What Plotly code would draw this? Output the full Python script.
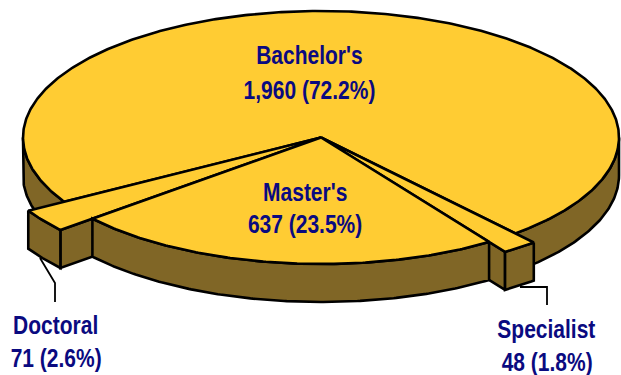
import numpy as np
import plotly.graph_objects as go

categories = ["Specialist", "Master's", "Doctoral", "Bachelor's"]
values = [48, 637, 71, 1960]
percents = ["1.8%", "23.5%", "2.6%", "72.2%"]

TOP = "#FFCC33"
SIDE = "#806626"
INK = "#000000"
TEXT = "#0A0A80"
CX, CY, RX, RY, DEPTH = 321, 137.5, 298, 126.5, 38
START = 49.3
EXPLODE = {"Specialist": 1.095, "Master's": 1.0, "Doctoral": 1.14, "Bachelor's": 1.0}
LW = 2.6

total = sum(values)
bounds = {}
a = START
for c, v in zip(categories, values):
    bounds[c] = (a, a + v / total * 360)
    a += v / total * 360


def pt(deg, k):
    t = np.radians(deg)
    return CX + RX * k * np.cos(t), CY + RY * k * np.sin(t)


def arc(a0, a1, k, dy=0):
    t = np.linspace(a0, a1, max(2, int(abs(a1 - a0) * 2)))
    x, y = pt(t, k)
    return list(x), list(y + dy)


fig = go.Figure()


def poly(x, y, color):
    fig.add_trace(go.Scatter(x=x + x[:1], y=y + y[:1], mode="lines", fill="toself",
                             fillcolor=color, line=dict(color=INK, width=LW),
                             hoverinfo="skip", showlegend=False))


def line(x, y, w=1.8):
    fig.add_trace(go.Scatter(x=x, y=y, mode="lines", line=dict(color=INK, width=w),
                             hoverinfo="skip", showlegend=False))


def outer_side(a0, a1, k):
    x0, y0 = arc(a0, a1, k)
    x1, y1 = arc(a1, a0, k, DEPTH)
    poly(x0 + x1, y0 + y1, SIDE)


def radial_side(deg, k):
    x, y = pt(deg, k)
    poly([CX, x, x, CX], [CY, y, y + DEPTH, CY + DEPTH], SIDE)


def top(a0, a1, k):
    x, y = arc(a0, a1, k)
    poly([CX] + x, [CY] + y, TOP)


# Bachelor's: back of the pie, drawn first
b0, b1 = bounds["Bachelor's"]
outer_side(b0, 180, 1.0)
outer_side(360, b1, 1.0)
top(b0, b1, 1.0)

# Exploded wedges
d0, d1 = bounds["Doctoral"]
kd = EXPLODE["Doctoral"]
radial_side(d0, kd)
outer_side(d0, d1, kd)
top(d0, d1, kd)

s0, s1 = bounds["Specialist"]
ks = EXPLODE["Specialist"]
radial_side(s1, ks)
outer_side(s0, s1, ks)
top(s0, s1, ks)

# Master's
m0, m1 = bounds["Master's"]
outer_side(m0, m1, 1.0)
top(m0, m1, 1.0)

# Leader lines
line([40, 55, 55], [258, 283, 302])
line([520, 547, 547], [287, 287, 305])

label_pos = {"Bachelor's": (309.5, 55, 90), "Master's": (305, 192, 224),
             "Doctoral": (55.5, 325, 358), "Specialist": (546.5, 329, 362)}
for c, v, p in zip(categories, values, percents):
    x, y1, y2 = label_pos[c]
    for y, s in ((y1, c), (y2, f"{v:,} ({p})")):
        fig.add_annotation(x=x, y=y, text=s, showarrow=False,
                           align="center", xanchor="center", yanchor="middle",
                           font=dict(family="Liberation Sans", size=25, color=TEXT, weight="bold"))

fig.update_xaxes(range=[0, 621], visible=False, fixedrange=True)
fig.update_yaxes(range=[375, 0], visible=False, fixedrange=True)
fig.update_layout(width=621, height=375, margin=dict(l=0, r=0, t=0, b=0),
                  paper_bgcolor="white", plot_bgcolor="white", showlegend=False)
squeeze = """
document.body.style.margin='0';
document.querySelectorAll('text.annotation-text').forEach(function(t){
  var cx=parseFloat(t.getAttribute('x'));
  t.setAttribute('transform','translate('+cx+',0) scale(0.84,1) translate('+(-cx)+',0)');
});
"""
fig.write_html("out.html", config={"displayModeBar": False}, post_script=squeeze)
